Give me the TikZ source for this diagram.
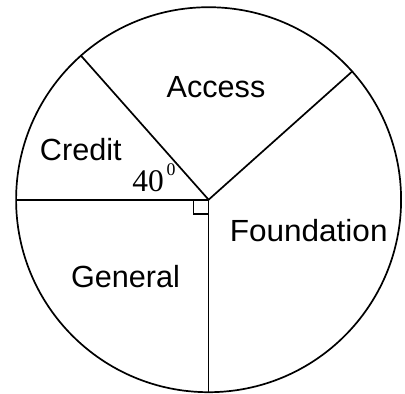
\documentclass[tikz,border=0pt]{standalone}
\usepackage{fontspec}
\setmainfont{Liberation Serif}
\newfontfamily\arialf{Liberation Sans}
\begin{document}
\begin{tikzpicture}[x=1pt,y=-1pt,line width=1.7pt,
  lbl/.style={font=\arialf\fontsize{30.6}{36}\selectfont,anchor=base,inner sep=0pt},
  anglbl/.style={font=\fontsize{31.5}{36}\selectfont,anchor=base west,inner sep=0pt}]
\useasboundingbox (0,0) rectangle (405,394);
\coordinate (c) at (208.6,199.7);
\coordinate (l) at (16,199.7);
\coordinate (b) at (208.6,392.2);
\coordinate (ul) at (81,55.7);
\coordinate (ur) at (352.7,71);
\draw (c) circle (192.5);
\draw (l) -- (c) -- (b);
\draw (ul) -- (c) -- (ur);
\draw[line width=1.4pt] (193.5,199.7) -- (193.5,214) -- (208.6,214);
\node[lbl] (access) at (216,97.3) {Access};
\node[lbl] (credit) at (80.8,160.7) {Credit};
\node[lbl,xscale=1.03] (found) at (308.7,241.5) {Foundation};
\node[lbl] (gen) at (125.5,287.6) {General};
\node[anglbl] (ang) at (131.6,191) {40\hspace{2.6pt}\raisebox{16pt}{\fontsize{17.8}{18}\selectfont 0}};
\end{tikzpicture}
\end{document}
